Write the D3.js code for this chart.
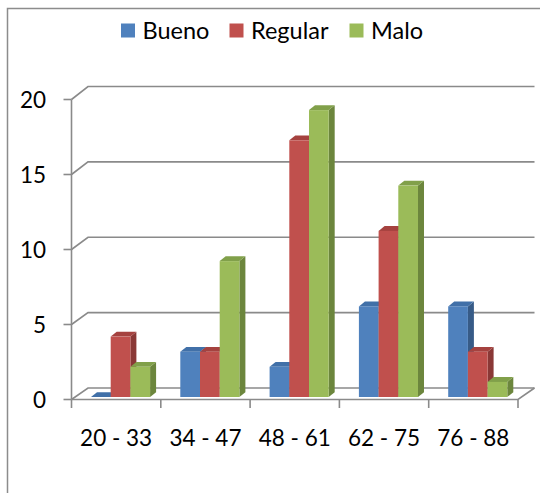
<!DOCTYPE html>
<html>
<head>
<meta charset="utf-8">
<script src="https://cdn.jsdelivr.net/npm/d3@7"></script>
<style>
  html, body { margin: 0; padding: 0; background: #fff; }
  svg { display: block; font-family: Lato, "Open Sans", sans-serif; }
</style>
</head>
<body>
<svg id="chart" width="540" height="493"></svg>
<script>
// Age ranges and counts per rating
const categories = ["20 - 33", "34 - 47", "48 - 61", "62 - 75", "76 - 88"];
const seriesNames = ["Bueno", "Regular", "Malo"];
const bueno   = [0, 3, 2, 6, 6];
const regular = [4, 3, 17, 11, 3];
const malo    = [2, 9, 19, 14, 1];
const yTicks  = [0, 5, 10, 15, 20];

const seriesValues = [bueno, regular, malo];
const faceColors = {
  Bueno:   { front: "#4F81BD", top: "#4170A8", side: "#375B87" },
  Regular: { front: "#C0504D", top: "#A5423F", side: "#8A3836" },
  Malo:    { front: "#9BBB59", top: "#81A04A", side: "#6C863D" }
};

const svg = d3.select("#chart");
const W = 540, H = 493;

// outer chart frame
svg.append("rect")
  .attr("x", 7.5).attr("y", 8.5)
  .attr("width", W).attr("height", H)
  .attr("fill", "#fff").attr("stroke", "#8c8c8c").attr("stroke-width", 1.5);

// 3D box: front plane, bar plane and back wall
const depth = { dx: 16.5, dy: -12 };
const x0 = d3.scaleBand().domain(categories).range([71.5, 518]).paddingInner(0).paddingOuter(0);
const yFront = d3.scaleLinear().domain([0, 20]).range([399.5, 99.5]);
const yBack  = d3.scaleLinear().domain([0, 20]).range([388, 86.5]);
const yBar   = d3.scaleLinear().domain([0, 20]).range([397, 95]);
const x1 = d3.scaleBand().domain(seriesNames).range([0, x0.bandwidth()]).paddingInner(0).paddingOuter(0.767);
const barShift = 4.4;          // bars sit partway into the depth
const barDepth = { dx: 6, dy: -4.8 };

const xLeft = x0.range()[0], xRight = x0.range()[1];
const backRight = xRight + depth.dx;
const grid = svg.append("g").attr("fill", "none").attr("stroke", "#8a8a8a").attr("stroke-width", 1.6);

// gridlines on the side and back walls
yTicks.forEach(v => {
  grid.append("polyline")
    .attr("points", [[xLeft, yFront(v)], [xLeft + depth.dx, yBack(v)], [backRight, yBack(v)]].map(p => p.join(",")).join(" "));
});
// floor front edge and right side
grid.append("polyline")
  .attr("points", [[xLeft, yFront(0)], [xRight, yFront(0)], [backRight, yBack(0)]].map(p => p.join(",")).join(" "));

// value axis line and ticks
grid.append("line").attr("x1", xLeft).attr("x2", xLeft).attr("y1", yFront(20)).attr("y2", yFront(0));
yTicks.forEach(v => {
  grid.append("line").attr("x1", xLeft - 8).attr("x2", xLeft).attr("y1", yFront(v)).attr("y2", yFront(v));
});
// category ticks
const catEdges = categories.map(c => x0(c)).concat([xRight]);
catEdges.forEach(x => {
  grid.append("line").attr("x1", x).attr("x2", x).attr("y1", yFront(0)).attr("y2", yFront(0) + 8.5);
});

// value labels
svg.append("g").selectAll("text").data(yTicks).join("text")
  .attr("x", 46).attr("y", d => yFront(d)).attr("dy", "0.36em")
  .attr("text-anchor", "end").attr("font-size", 22.5).attr("fill", "#000")
  .text(d => d);

// category labels
svg.append("g").selectAll("text").data(categories).join("text")
  .attr("x", d => x0(d) + x0.bandwidth() / 2).attr("y", 446)
  .attr("text-anchor", "middle").attr("font-size", 22.5).attr("fill", "#000")
  .text(d => d);

// bars: side, top then front face, drawn left to right
const bars = svg.append("g");
categories.forEach((cat, ci) => {
  seriesNames.forEach((s, si) => {
    const v = seriesValues[si][ci];
    const xa = x0(cat) + x1(s) + barShift;
    const xb = xa + x1.bandwidth();
    const yb = yBar(0), yt = yBar(v);
    const c = faceColors[s];
    const pts = a => a.map(p => p.join(",")).join(" ");
    bars.append("polygon").attr("fill", c.side)
      .attr("points", pts([[xb, yb], [xb + barDepth.dx, yb + barDepth.dy], [xb + barDepth.dx, yt + barDepth.dy], [xb, yt]]));
    bars.append("polygon").attr("fill", c.top)
      .attr("points", pts([[xa, yt], [xb, yt], [xb + barDepth.dx, yt + barDepth.dy], [xa + barDepth.dx, yt + barDepth.dy]]));
    if (v > 0) {
      bars.append("rect").attr("fill", c.front)
        .attr("x", xa).attr("y", yt).attr("width", xb - xa).attr("height", yb - yt);
    }
  });
});

// legend
const legendX = [121, 229.5, 349.5];
const legend = svg.append("g");
seriesNames.forEach((s, i) => {
  legend.append("rect").attr("x", legendX[i]).attr("y", 23.5).attr("width", 14).attr("height", 14)
    .attr("fill", faceColors[s].front);
  legend.append("text").attr("x", legendX[i] + 21.5).attr("y", 38.5)
    .attr("font-size", 23.5).attr("fill", "#000").text(s);
});
</script>
</body>
</html>
